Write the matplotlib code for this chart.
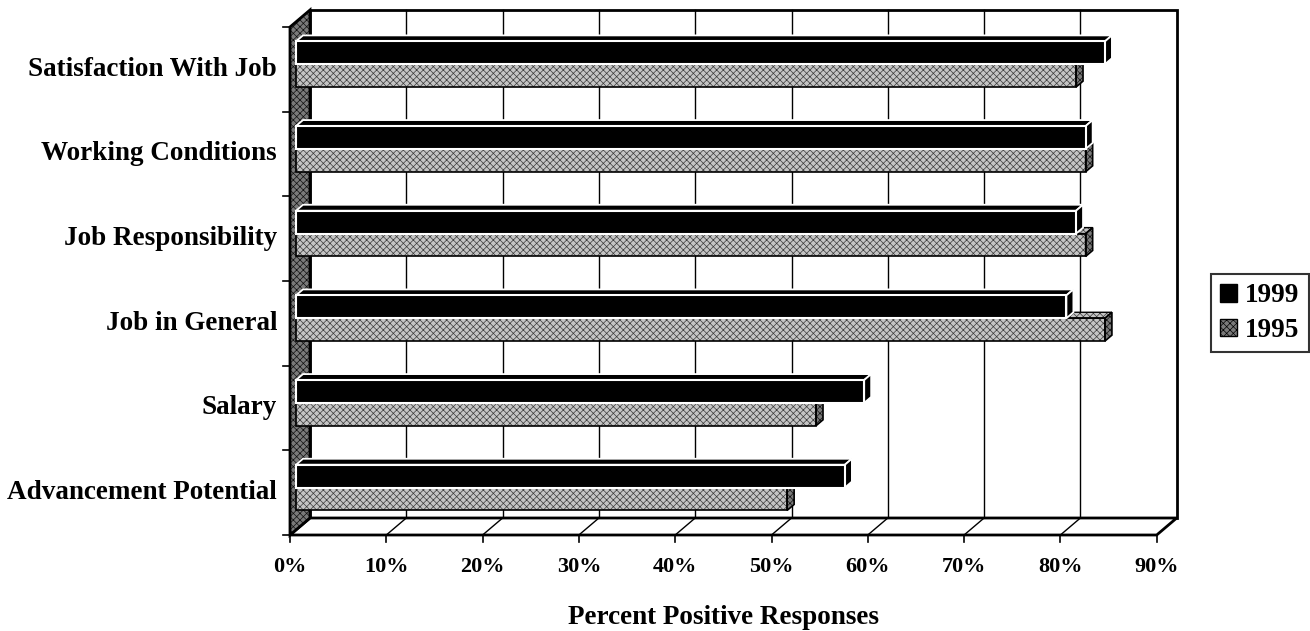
import matplotlib
matplotlib.use('Agg')
import matplotlib.pyplot as plt
from matplotlib.patches import Polygon, Patch

# ── Data ──────────────────────────────────────────────────────────
categories = ['Satisfaction With Job', 'Working Conditions', 'Job Responsibility',
              'Job in General', 'Salary', 'Advancement Potential']
pct_1999 = [84, 82, 81, 80, 59, 57]
pct_1995 = [81, 82, 82, 84, 54, 51]
xticks = [0, 10, 20, 30, 40, 50, 60, 70, 80, 90]
xlabels = [f'{t}%' for t in xticks]
series = ['1999', '1995']

# ── Style / geometry ──────────────────────────────────────────────
W, H = 1310, 631
X0, PX = 290, 9.63      # pixel of 0% on front plane, px per percent
Y0, PY = 535, 84.67     # pixel of floor front edge, px per category
DX, DY = 20 / PX, 17 / PY   # depth offset of the back wall
Z0, Z1 = 0.30, 0.65     # depth range of the bars
BAR_H = 0.27
FONT = 'Liberation Serif'
STIP = '#c4c4c4'
STIP_HATCH = '#3c3c3c'
DARK = '#7a7a7a'

plt.rcParams['hatch.linewidth'] = 0.5

fig = plt.figure(figsize=(W / 100, H / 100), dpi=100)
ax = fig.add_axes([0, 0, 1, 1])
ax.set_xlim(-X0 / PX, (W - X0) / PX)
ax.set_ylim((Y0 - H) / PY, Y0 / PY)
ax.axis('off')

n = len(categories)
xmax = xticks[-1]

# back wall + grid
ax.add_patch(Polygon([(DX, DY), (xmax + DX, DY), (xmax + DX, n + DY), (DX, n + DY)],
                     closed=True, facecolor='white', edgecolor='black', lw=2, zorder=1))
for t in xticks[1:-1]:
    ax.plot([t + DX, t + DX], [DY, n + DY], color='black', lw=1, zorder=1.5)

# floor
ax.add_patch(Polygon([(0, 0), (xmax, 0), (xmax + DX, DY), (DX, DY)],
                     closed=True, facecolor='white', edgecolor='black', lw=2, zorder=2))
for t in xticks[1:-1]:
    ax.plot([t, t + DX], [0, DY], color='black', lw=1, zorder=2.1)

# left wall
wall = [(0, 0), (DX, DY), (DX, n + DY), (0, n)]
ax.add_patch(Polygon(wall, closed=True, facecolor=DARK, edgecolor='#111111',
                     hatch='xxxxx', lw=0, zorder=2.5))
ax.add_patch(Polygon(wall, closed=True, fill=False, edgecolor='black', lw=2, zorder=2.6))

# ── Bars ──────────────────────────────────────────────────────────
ypos = [n - 1 - i for i in range(n)]   # first category at the top
y95 = [y + 0.365 + Z0 * DY for y in ypos]
y99 = [y + 0.635 + Z0 * DY for y in ypos]
left = Z0 * DX
ddx, ddy = (Z1 - Z0) * DX, (Z1 - Z0) * DY


def faces(yc, v):
    bot, top = yc - BAR_H / 2, yc + BAR_H / 2
    x1 = left + v
    top_face = [(left, top), (x1, top), (x1 + ddx, top + ddy), (left + ddx, top + ddy)]
    end_face = [(x1, bot), (x1, top), (x1 + ddx, top + ddy), (x1 + ddx, bot + ddy)]
    return top_face, end_face


# 1995 (stippled)
ax.barh(y95, pct_1995, left=left, height=BAR_H, color=STIP, edgecolor=STIP_HATCH,
        hatch='xxxxx', lw=0, zorder=3)
ax.barh(y95, pct_1995, left=left, height=BAR_H, fill=False, edgecolor='black',
        lw=1.2, zorder=3.1)
for yc, v in zip(y95, pct_1995):
    tf, ef = faces(yc, v)
    ax.add_patch(Polygon(tf, closed=True, facecolor=STIP, edgecolor=STIP_HATCH,
                         hatch='xxxxx', lw=0, zorder=3))
    ax.add_patch(Polygon(tf, closed=True, fill=False, edgecolor='black', lw=1, zorder=3.1))
    ax.add_patch(Polygon(ef, closed=True, facecolor=DARK, edgecolor='#111111',
                         hatch='xxxxx', lw=0, zorder=3))
    ax.add_patch(Polygon(ef, closed=True, fill=False, edgecolor='black', lw=1.2, zorder=3.1))

# 1999 (black)
ax.barh(y99, pct_1999, left=left, height=BAR_H, color='black', edgecolor='white',
        lw=1.5, zorder=4)
for yc, v in zip(y99, pct_1999):
    tf, ef = faces(yc, v)
    ax.add_patch(Polygon(tf, closed=True, facecolor='black', edgecolor='white', lw=1.3, zorder=3.9))
    ax.add_patch(Polygon(ef, closed=True, facecolor='black', edgecolor='white', lw=1.3, zorder=3.9))

# ── Ticks & labels ────────────────────────────────────────────────
for t, lab in zip(xticks, xlabels):
    ax.plot([t, t], [0, -7 / PY], color='black', lw=1.2, zorder=2)
    ax.text(t, -32 / PY, lab, ha='center', va='center', fontsize=16,
            fontweight='bold', family=FONT)
for c in range(n + 1):
    ax.plot([-0.75, 0], [c, c], color='black', lw=1.2, zorder=2)
for y, name in zip(ypos, categories):
    ax.text(-13 / PX, y + 0.5, name, ha='right', va='center', fontsize=19.5,
            fontweight='bold', family=FONT)

ax.text(xmax / 2, -82 / PY, 'Percent Positive Responses', ha='center', va='center',
        fontsize=19.5, fontweight='bold', family=FONT)

handles = [Patch(facecolor='black', edgecolor='black', label=series[0]),
           Patch(facecolor=DARK, edgecolor='black', hatch='xxxxx', label=series[1])]
leg = ax.legend(handles=handles, loc='upper left', bbox_to_anchor=(1211 / W, 1 - 274 / H),
                frameon=True, fancybox=False, edgecolor='black', borderaxespad=0,
                handlelength=0.6, handleheight=0.6, handletextpad=0.3, borderpad=0.35,
                labelspacing=0.35, prop={'family': FONT, 'weight': 'bold', 'size': 19.5})
leg.get_frame().set_linewidth(1.5)

fig.savefig('out.png', dpi=100, facecolor='white')
